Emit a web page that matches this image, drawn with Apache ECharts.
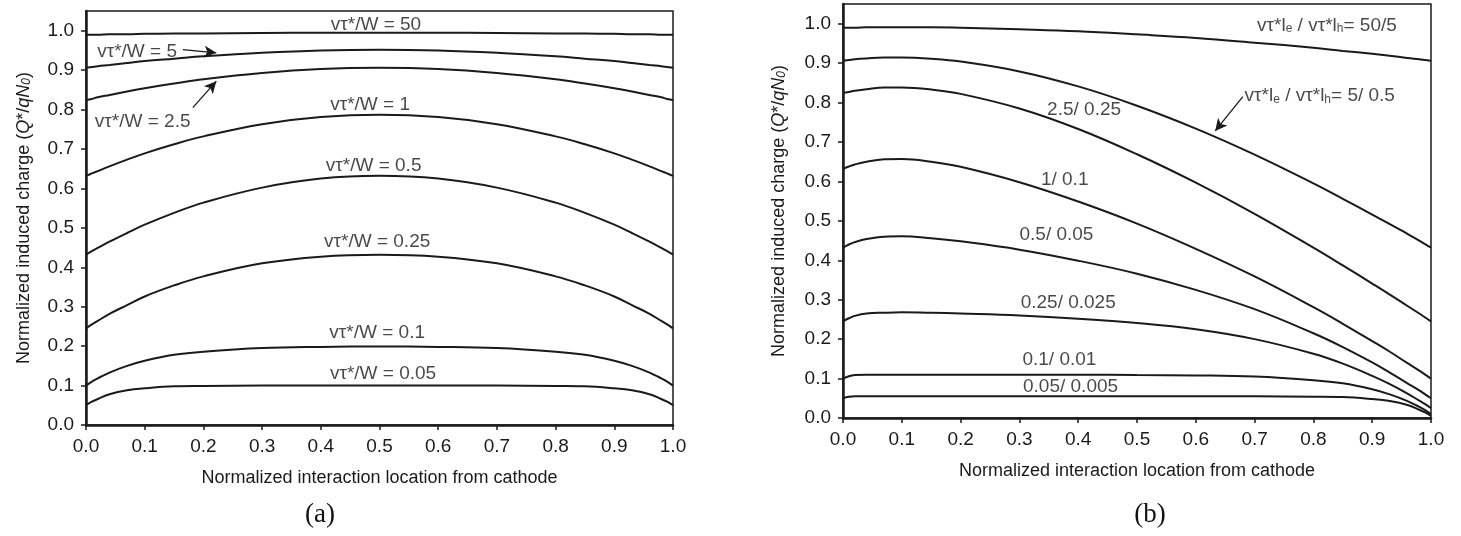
<!DOCTYPE html>
<html><head><meta charset="utf-8">
<script src="https://cdn.jsdelivr.net/npm/echarts@6/dist/echarts.min.js"></script>
<style>html,body{margin:0;padding:0;background:#fff}#c{width:1461px;height:536px}</style>
</head><body><div id="c"></div>
<script>
// shared sampling positions along the detector (normalized interaction location)
const xPos = [0, 0.01, 0.02, 0.04, 0.07, 0.1, 0.15, 0.2, 0.3, 0.4, 0.5, 0.6, 0.7, 0.8, 0.85, 0.9, 0.93, 0.96, 0.98, 0.99, 1.0];
const axisTicks = [0, 0.1, 0.2, 0.3, 0.4, 0.5, 0.6, 0.7, 0.8, 0.9, 1.0];

// panel (a): vτ*/W
const leftNames = ['vτ*/W = 50', 'vτ*/W = 5', 'vτ*/W = 2.5', 'vτ*/W = 1', 'vτ*/W = 0.5', 'vτ*/W = 0.25', 'vτ*/W = 0.1', 'vτ*/W = 0.05'];
const leftQ50  = [0.990,0.990,0.990,0.991,0.991,0.992,0.993,0.993,0.994,0.995,0.995,0.995,0.994,0.993,0.993,0.992,0.991,0.991,0.990,0.990,0.990];
const leftQ5   = [0.906,0.908,0.910,0.913,0.918,0.923,0.929,0.935,0.944,0.950,0.952,0.950,0.944,0.935,0.929,0.923,0.918,0.913,0.910,0.908,0.906];
const leftQ2_5 = [0.824,0.827,0.831,0.837,0.846,0.854,0.866,0.877,0.893,0.903,0.906,0.903,0.893,0.877,0.866,0.854,0.846,0.837,0.831,0.827,0.824];
const leftQ1   = [0.632,0.638,0.644,0.656,0.673,0.689,0.712,0.732,0.763,0.781,0.787,0.781,0.763,0.732,0.712,0.689,0.673,0.656,0.644,0.638,0.632];
const leftQ0_5 = [0.432,0.441,0.449,0.465,0.487,0.508,0.538,0.564,0.602,0.625,0.632,0.625,0.602,0.564,0.538,0.508,0.487,0.465,0.449,0.441,0.432];
const leftQ0_25= [0.245,0.255,0.264,0.282,0.304,0.326,0.354,0.377,0.410,0.427,0.432,0.427,0.410,0.377,0.354,0.326,0.304,0.282,0.264,0.255,0.245];
const leftQ0_1 = [0.100,0.110,0.118,0.133,0.150,0.163,0.178,0.186,0.195,0.198,0.199,0.198,0.195,0.186,0.178,0.163,0.150,0.133,0.118,0.110,0.100];
const leftQ0_05= [0.050,0.059,0.066,0.078,0.088,0.093,0.098,0.099,0.100,0.100,0.100,0.100,0.100,0.099,0.098,0.093,0.088,0.078,0.066,0.059,0.050];

// panel (b): vτ*l_e / vτ*l_h
const rightNames = ['50/5', '5/ 0.5', '2.5/ 0.25', '1/ 0.1', '0.5/ 0.05', '0.25/ 0.025', '0.1/ 0.01', '0.05/ 0.005'];
const rightQ50_5     = [0.990,0.990,0.990,0.991,0.991,0.991,0.991,0.990,0.986,0.981,0.973,0.964,0.952,0.939,0.931,0.924,0.919,0.913,0.910,0.908,0.906];
const rightQ5_05     = [0.906,0.908,0.910,0.912,0.914,0.914,0.911,0.904,0.879,0.841,0.792,0.734,0.668,0.595,0.556,0.516,0.492,0.467,0.450,0.441,0.432];
const rightQ2_5_025  = [0.824,0.827,0.830,0.834,0.838,0.838,0.833,0.822,0.785,0.733,0.669,0.597,0.518,0.432,0.387,0.341,0.313,0.284,0.265,0.255,0.245];
const rightQ1_01     = [0.632,0.638,0.643,0.650,0.656,0.657,0.650,0.637,0.598,0.549,0.493,0.429,0.359,0.281,0.239,0.195,0.168,0.139,0.120,0.110,0.100];
const rightQ05_005   = [0.432,0.440,0.446,0.454,0.460,0.461,0.456,0.448,0.427,0.399,0.366,0.325,0.276,0.215,0.180,0.141,0.115,0.088,0.070,0.060,0.050];
const rightQ025_0025 = [0.245,0.253,0.259,0.265,0.267,0.268,0.267,0.265,0.260,0.252,0.241,0.225,0.200,0.163,0.138,0.107,0.086,0.062,0.044,0.035,0.025];
const rightQ01_001   = [0.100,0.106,0.109,0.110,0.110,0.110,0.110,0.110,0.110,0.110,0.109,0.108,0.105,0.096,0.088,0.073,0.060,0.043,0.028,0.020,0.010];
const rightQ005_0005 = [0.050,0.054,0.055,0.055,0.055,0.055,0.055,0.055,0.055,0.055,0.055,0.055,0.055,0.054,0.053,0.048,0.043,0.033,0.021,0.014,0.005];

const leftSets = [leftQ50, leftQ5, leftQ2_5, leftQ1, leftQ0_5, leftQ0_25, leftQ0_1, leftQ0_05];
const rightSets = [rightQ50_5, rightQ5_05, rightQ2_5_025, rightQ1_01, rightQ05_005, rightQ025_0025, rightQ01_001, rightQ005_0005];

const FONT = 'Liberation Sans, Arial, sans-serif';
const INK = '#1a1a1a';
const FS = 19;

function pairs(vals) { return xPos.map((x, i) => [x, vals[i]]); }

function xAxisCfg(idx) {
  return {
    type: 'value', gridIndex: idx, min: 0, max: 1, interval: 0.1,
    name: 'Normalized interaction location from cathode', nameLocation: 'middle', nameGap: 44,
    nameTextStyle: { fontFamily: FONT, fontSize: FS - 1, color: INK },
    axisLine: { show: true, onZero: false, lineStyle: { color: INK, width: 2.5 } },
    axisTick: { show: true, inside: false, length: 5, lineStyle: { color: INK, width: 1.5 } },
    axisLabel: { fontFamily: FONT, fontSize: FS, color: INK, margin: 12, formatter: v => v.toFixed(1) },
    splitLine: { show: false }
  };
}
function yAxisCfg(idx) {
  return {
    type: 'value', gridIndex: idx, min: 0, max: 1.05,
    name: 'Normalized induced charge ({i|Q}*/{i|qN}{s|0})', nameLocation: 'middle', nameGap: idx === 0 ? 53 : 55,
    nameTextStyle: { fontFamily: FONT, fontSize: FS - 1, color: INK,
      rich: { i: { fontFamily: FONT, fontSize: FS - 1, fontStyle: 'italic', color: INK },
              s: { fontFamily: FONT, fontSize: 12, fontStyle: 'italic', color: INK, verticalAlign: 'bottom', lineHeight: 12 } } },
    axisLine: { show: true, onZero: false, lineStyle: { color: INK, width: 2.5 } },
    axisTick: { show: true, inside: false, length: 5, customValues: axisTicks, lineStyle: { color: INK, width: 1.5 } },
    axisLabel: { fontFamily: FONT, fontSize: FS, color: INK, margin: 12, customValues: axisTicks, formatter: v => v.toFixed(1) },
    splitLine: { show: false }
  };
}

const series = [];
leftSets.forEach((vals, k) => series.push({
  name: leftNames[k], type: 'line', xAxisIndex: 0, yAxisIndex: 0, data: pairs(vals),
  showSymbol: false, smooth: 0.4, silent: true,
  lineStyle: { color: INK, width: 2 }
}));
rightSets.forEach((vals, k) => series.push({
  name: rightNames[k], type: 'line', xAxisIndex: 1, yAxisIndex: 1, data: pairs(vals),
  showSymbol: false, smooth: 0.4, silent: true,
  lineStyle: { color: INK, width: 2 }
}));

const labelStyle = { show: true, position: 'inside', fontFamily: FONT, fontSize: FS, color: INK,
  formatter: p => p.value[2],
  rich: { s: { fontFamily: FONT, fontSize: 12, color: INK, verticalAlign: 'bottom', lineHeight: 12 } } };

// annotation text for panel (a), placed in data units
series.push({
  type: 'scatter', xAxisIndex: 0, yAxisIndex: 0, symbolSize: 0, silent: true, z: 5,
  label: labelStyle,
  data: [
    { value: [0.494, 1.016, leftNames[0]] },
    { value: [0.019, 0.947, leftNames[1]], label: { align: 'left' } },
    { value: [0.015, 0.769, leftNames[2]], label: { align: 'left' } },
    { value: [0.484, 0.812, leftNames[3]] },
    { value: [0.490, 0.657, leftNames[4]] },
    { value: [0.496, 0.464, leftNames[5]] },
    { value: [0.496, 0.234, leftNames[6]] },
    { value: [0.506, 0.129, leftNames[7]] }
  ],
  markLine: {
    silent: true, symbol: ['none', 'arrow'], symbolSize: [9, 12],
    lineStyle: { color: INK, width: 1.3, type: 'solid' }, label: { show: false },
    data: [
      [{ coord: [0.165, 0.952] }, { coord: [0.222, 0.944] }],
      [{ coord: [0.182, 0.805] }, { coord: [0.222, 0.872] }]
    ]
  }
});
// annotation text for panel (b)
series.push({
  type: 'scatter', xAxisIndex: 1, yAxisIndex: 1, symbolSize: 0, silent: true, z: 5,
  label: labelStyle,
  data: [
    { value: [0.823, 0.995, 'vτ*l{s|e} / vτ*l{s|h}= ' + rightNames[0]] },
    { value: [0.683, 0.817, 'vτ*l{s|e} / vτ*l{s|h}= ' + rightNames[1]], label: { align: 'left' } },
    { value: [0.410, 0.782, rightNames[2]] },
    { value: [0.377, 0.604, rightNames[3]] },
    { value: [0.363, 0.464, rightNames[4]] },
    { value: [0.383, 0.292, rightNames[5]] },
    { value: [0.368, 0.147, rightNames[6]] },
    { value: [0.387, 0.079, rightNames[7]] }
  ],
  markLine: {
    silent: true, symbol: ['none', 'arrow'], symbolSize: [9, 12],
    lineStyle: { color: INK, width: 1.3, type: 'solid' }, label: { show: false },
    data: [
      [{ coord: [0.680, 0.815] }, { coord: [0.633, 0.728] }]
    ]
  }
});

const chart = echarts.init(document.getElementById('c'), null, { renderer: 'canvas' });
chart.setOption({
  animation: false,
  backgroundColor: '#ffffff',
  grid: [
    { left: 86, top: 11, width: 587, height: 414, show: true, borderColor: INK, borderWidth: 1.5, backgroundColor: 'transparent' },
    { left: 843, top: 4, width: 588, height: 414, show: true, borderColor: INK, borderWidth: 1.5, backgroundColor: 'transparent' }
  ],
  xAxis: [xAxisCfg(0), xAxisCfg(1)],
  yAxis: [yAxisCfg(0), yAxisCfg(1)],
  graphic: [
    { type: 'text', x: 320, y: 515, style: { text: '(a)', font: '27px "Liberation Serif", "Times New Roman", serif', fill: '#111', textAlign: 'center', textVerticalAlign: 'middle' } },
    { type: 'text', x: 1150, y: 515, style: { text: '(b)', font: '27px "Liberation Serif", "Times New Roman", serif', fill: '#111', textAlign: 'center', textVerticalAlign: 'middle' } }
  ],
  series: series
});
</script>
</body></html>
